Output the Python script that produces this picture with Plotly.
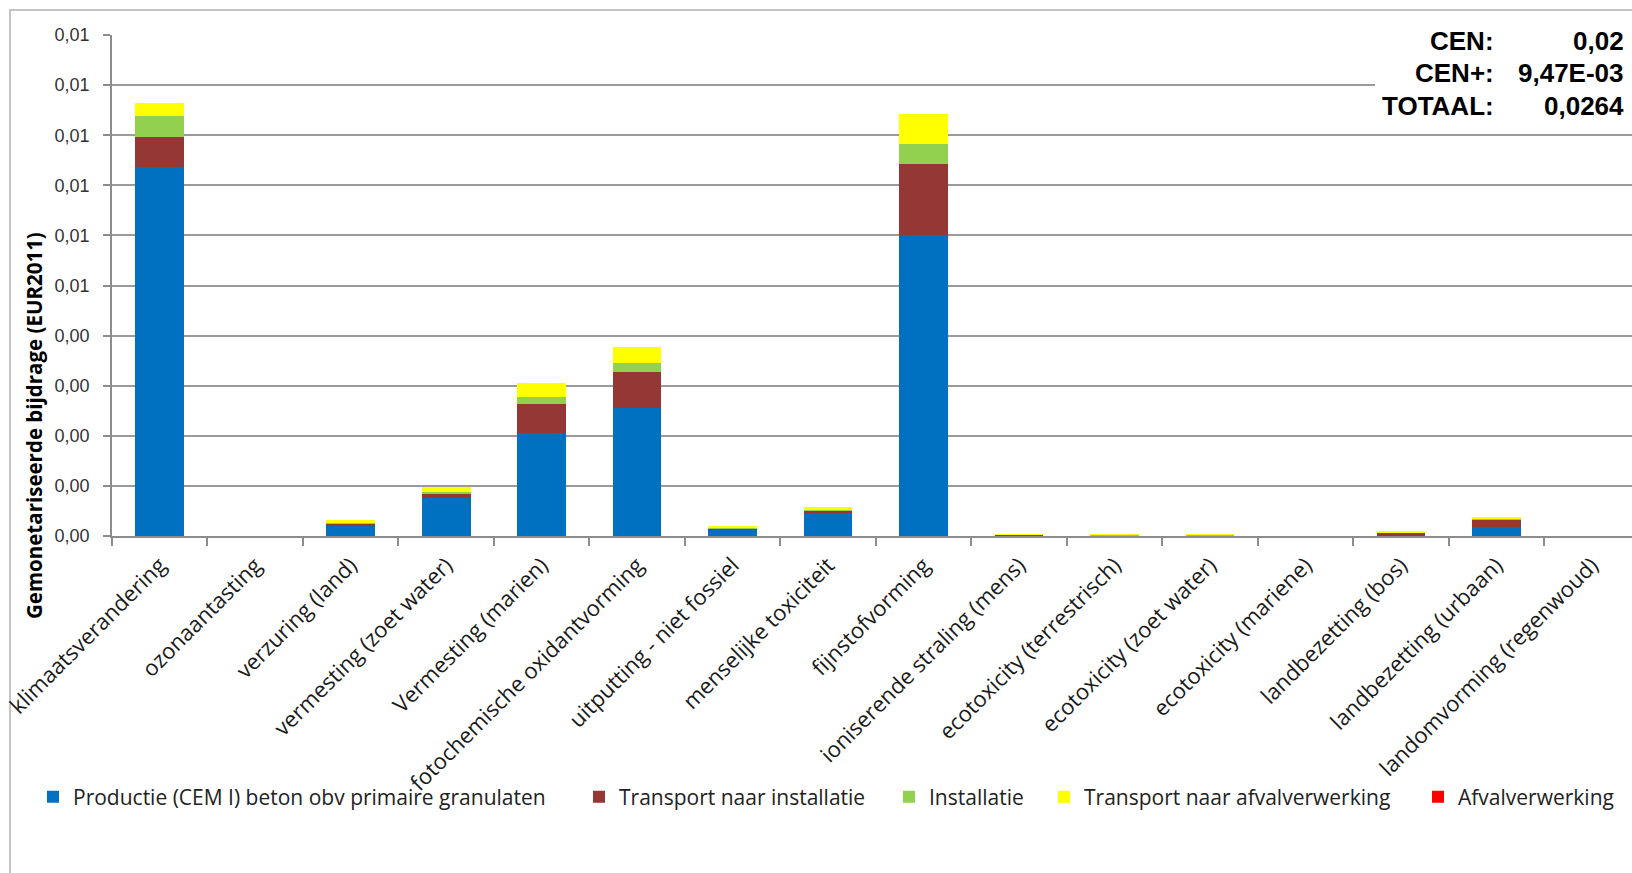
import plotly.graph_objects as go

# Impact categories (x axis)
categories = [
    "klimaatsverandering", "ozonaantasting", "verzuring (land)",
    "vermesting (zoet water)", "Vermesting (marien)",
    "fotochemische oxidantvorming", "uitputting - niet fossiel",
    "menselijke toxiciteit", "fijnstofvorming",
    "ioniserende straling (mens)", "ecotoxicity (terrestrisch)",
    "ecotoxicity (zoet water)", "ecotoxicity (mariene)",
    "landbezetting (bos)", "landbezetting (urbaan)",
    "landomvorming (regenwoud)",
]

# Life-cycle phase contributions (EUR2011)
productie = [0.00737, 0.0, 0.00021, 0.000763, 0.002055, 0.002555, 0.000124,
             0.000463, 0.0060, 0.00001, 0.000005, 0.000005, 0.0, 0.00001,
             0.00017, 0.0]
transport_installatie = [0.0006, 0.0, 0.00003, 0.000093, 0.000587, 0.000713,
                         0.000026, 0.000047, 0.001425, 0.00001, 0.00001,
                         0.00001, 0.0, 0.00006, 0.00015, 0.0]
installatie = [0.000415, 0.0, 0.00001, 0.00003, 0.000133, 0.000187, 0.00001,
               0.00001, 0.0004, 0.00001, 0.000005, 0.000005, 0.0, 0.000005,
               0.00001, 0.0]
transport_afval = [0.00026, 0.0, 0.00006, 0.00009, 0.00028, 0.000313,
                   0.000036, 0.000056, 0.000605, 0.00001, 0.00002, 0.00002,
                   0.0, 0.00003, 0.00004, 0.0]
afvalverwerking = [0.0] * 16

series_names = [
    "Productie (CEM I) beton obv primaire granulaten",
    "Transport naar installatie",
    "Installatie",
    "Transport naar afvalverwerking",
    "Afvalverwerking",
]
series_values = [productie, transport_installatie, installatie,
                 transport_afval, afvalverwerking]
series_colors = ["#0070C0", "#953735", "#92D050", "#FFFF00", "#FF0000"]

# Y axis ticks (labels rounded to two decimals, comma decimal separator)
y_tickvals = [0.000, 0.001, 0.002, 0.003, 0.004, 0.005,
              0.006, 0.007, 0.008, 0.009, 0.010]
y_ticktext = ["0,00", "0,00", "0,00", "0,00", "0,00", "0,01",
              "0,01", "0,01", "0,01", "0,01", "0,01"]

# Summary block
summary_labels = ["CEN:", "CEN+:", "TOTAAL:"]
summary_values = ["0,02", "9,47E-03", "0,0264"]

W, H = 1632, 873
L, R, T, B = 112, 0, 35, 337
PW = W - L - R
PH = H - T - B


def px(x):
    return (x - L) / PW


def py(y):
    return (H - B - y) / PH


# Left edge of each legend entry's text, in pixels
legend_text_x = [71, 617, 927, 1082, 1456]
legend_keys = ["legend", "legend2", "legend3", "legend4", "legend5"]

fig = go.Figure()
for name, vals, col, key in zip(series_names, series_values, series_colors,
                                legend_keys):
    fig.add_trace(go.Bar(
        x=categories, y=vals, name=name, legend=key,
        marker=dict(color=col, line=dict(width=0)),
    ))

legend_style = dict(
    orientation="h", xanchor="left", yanchor="middle",
    font=dict(family="Open Sans", size=21, color="#222222"),
    itemwidth=30, bgcolor="rgba(0,0,0,0)",
)
legend_layout = {}
for key, tx in zip(legend_keys, legend_text_x):
    legend_layout[key] = dict(legend_style, x=px(tx - 38), y=py(797))

fig.update_layout(
    width=W, height=H,
    margin=dict(l=L, r=R, t=T, b=B, autoexpand=False),
    barmode="stack",
    bargap=0.49,
    paper_bgcolor="white",
    plot_bgcolor="white",
    font=dict(family="Liberation Sans", color="#333333"),
    showlegend=True,
    xaxis=dict(
        type="category",
        range=[-0.5, 15.42],
        showline=True, linecolor="#8c8c8c", linewidth=1.5,
        ticks="outside", tickson="boundaries", ticklen=8,
        tickcolor="#8c8c8c", tickwidth=1.5,
        tickangle=-45,
        ticklabelstandoff=6,
        tickfont=dict(family="Open Sans", size=22, color="#1a1a1a"),
        showgrid=False,
        automargin=False,
    ),
    yaxis=dict(
        range=[0, 0.010],
        tickvals=y_tickvals, ticktext=y_ticktext,
        showline=True, linecolor="#8c8c8c", linewidth=1.5,
        ticks="outside", ticklen=7, tickcolor="#8c8c8c", tickwidth=1.5,
        ticklabelstandoff=10,
        showgrid=True, gridcolor="#9a9a9a", gridwidth=1.5,
        zeroline=False,
        tickfont=dict(family="Liberation Sans", size=18, color="#333333"),
        automargin=False,
    ),
    **legend_layout,
)

# Outer chart frame
fig.add_shape(type="rect", xref="paper", yref="paper",
              x0=px(10), x1=px(1640), y0=py(885), y1=py(10),
              line=dict(color="#c4c4c4", width=2), fillcolor="rgba(0,0,0,0)",
              layer="below")

# White panel behind the summary block
fig.add_shape(type="rect", xref="paper", yref="paper",
              x0=px(1375), x1=px(1640), y0=py(126), y1=py(22),
              line=dict(width=0), fillcolor="white", layer="above")

row_y = [41, 73, 106]
for lab, val, yy in zip(summary_labels, summary_values, row_y):
    fig.add_annotation(xref="paper", yref="paper", x=px(1496), y=py(yy),
                       text=f"<b>{lab}</b>", showarrow=False,
                       xanchor="right", yanchor="middle",
                       font=dict(family="Liberation Sans", size=26,
                                 color="#000000"))
    fig.add_annotation(xref="paper", yref="paper", x=px(1626), y=py(yy),
                       text=f"<b>{val}</b>", showarrow=False,
                       xanchor="right", yanchor="middle",
                       font=dict(family="Liberation Sans", size=26,
                                 color="#000000"))

# Y axis title
fig.add_annotation(xref="paper", yref="paper", x=px(34), y=py(426),
                   text="<b>Gemonetariseerde bijdrage (EUR2011)</b>",
                   textangle=-90, showarrow=False,
                   xanchor="center", yanchor="middle",
                   font=dict(family="Open Sans", size=20.5, color="#000000"))

fig.write_html("out.html")
